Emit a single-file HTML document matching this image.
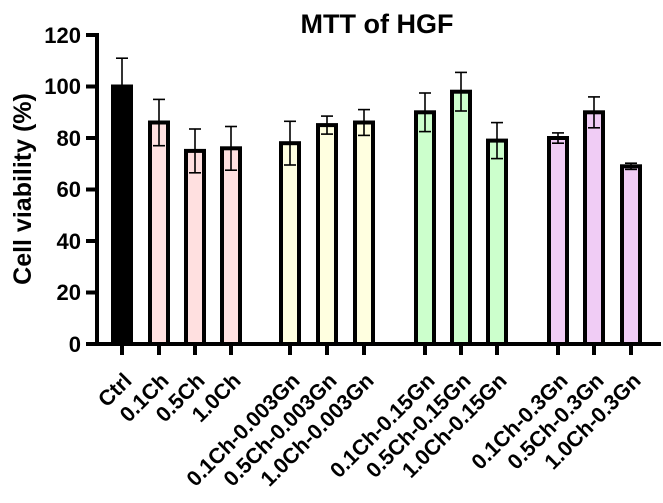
<!DOCTYPE html><html><head><style>body{margin:0;background:#fff}</style></head><body>
<svg width="663" height="498" xmlns="http://www.w3.org/2000/svg" font-family="Liberation Sans, Arial, sans-serif" font-weight="bold">
<text x="377" y="33" font-size="27" text-anchor="middle">MTT of HGF</text>
<text transform="translate(31,189) rotate(-90)" font-size="25" text-anchor="middle">Cell viability (%)</text>
<g stroke="#000">
<g stroke-width="4">
<rect x="113" y="86.5" width="18" height="257.5" fill="#000"/>
<rect x="150" y="122.5" width="18" height="221.5" fill="#ffe0e0"/>
<rect x="186" y="150.9" width="18" height="193.1" fill="#ffe0e0"/>
<rect x="222" y="148.3" width="18" height="195.7" fill="#ffe0e0"/>
<rect x="281" y="143.2" width="18" height="200.8" fill="#ffffe0"/>
<rect x="318" y="125.1" width="18" height="218.9" fill="#ffffe0"/>
<rect x="355" y="122.5" width="18" height="221.5" fill="#ffffe0"/>
<rect x="416" y="112.3" width="18" height="231.7" fill="#ccffcc"/>
<rect x="452" y="91.7" width="18" height="252.3" fill="#ccffcc"/>
<rect x="488" y="140.6" width="18" height="203.4" fill="#ccffcc"/>
<rect x="549" y="138" width="18" height="206" fill="#f0ccf5"/>
<rect x="585" y="112.3" width="18" height="231.7" fill="#f0ccf5"/>
<rect x="622" y="166.3" width="18" height="177.7" fill="#f0ccf5"/>
</g>
<g stroke-width="1.6">
<line x1="122" y1="58.2" x2="122" y2="114.8"/><line x1="116" y1="58.2" x2="128" y2="58.2"/><line x1="116" y1="114.8" x2="128" y2="114.8"/>
<line x1="159" y1="99.4" x2="159" y2="145.7"/><line x1="153" y1="99.4" x2="165" y2="99.4"/><line x1="153" y1="145.7" x2="165" y2="145.7"/>
<line x1="195" y1="129" x2="195" y2="172.8"/><line x1="189" y1="129" x2="201" y2="129"/><line x1="189" y1="172.8" x2="201" y2="172.8"/>
<line x1="231" y1="126.5" x2="231" y2="170.2"/><line x1="225" y1="126.5" x2="237" y2="126.5"/><line x1="225" y1="170.2" x2="237" y2="170.2"/>
<line x1="290" y1="121.3" x2="290" y2="165"/><line x1="284" y1="121.3" x2="296" y2="121.3"/><line x1="284" y1="165" x2="296" y2="165"/>
<line x1="327" y1="116.1" x2="327" y2="134.1"/><line x1="321" y1="116.1" x2="333" y2="116.1"/><line x1="321" y1="134.1" x2="333" y2="134.1"/>
<line x1="364" y1="109.6" x2="364" y2="135.4"/><line x1="358" y1="109.6" x2="370" y2="109.6"/><line x1="358" y1="135.4" x2="370" y2="135.4"/>
<line x1="425" y1="93" x2="425" y2="131.6"/><line x1="419" y1="93" x2="431" y2="93"/><line x1="419" y1="131.6" x2="431" y2="131.6"/>
<line x1="461" y1="72.4" x2="461" y2="111"/><line x1="455" y1="72.4" x2="467" y2="72.4"/><line x1="455" y1="111" x2="467" y2="111"/>
<line x1="497" y1="122.6" x2="497" y2="158.6"/><line x1="491" y1="122.6" x2="503" y2="122.6"/><line x1="491" y1="158.6" x2="503" y2="158.6"/>
<line x1="558" y1="132.9" x2="558" y2="143.2"/><line x1="552" y1="132.9" x2="564" y2="132.9"/><line x1="552" y1="143.2" x2="564" y2="143.2"/>
<line x1="594" y1="96.9" x2="594" y2="127.8"/><line x1="588" y1="96.9" x2="600" y2="96.9"/><line x1="588" y1="127.8" x2="600" y2="127.8"/>
<line x1="631" y1="163.2" x2="631" y2="169.4"/><line x1="625" y1="163.2" x2="637" y2="163.2"/><line x1="625" y1="169.4" x2="637" y2="169.4"/>
</g>
<g stroke-width="4">
<line x1="97" y1="33" x2="97" y2="346"/>
<line x1="95" y1="344" x2="661" y2="344"/>
<line x1="86" y1="35" x2="97" y2="35"/><line x1="86" y1="86.5" x2="97" y2="86.5"/><line x1="86" y1="138" x2="97" y2="138"/><line x1="86" y1="189.5" x2="97" y2="189.5"/><line x1="86" y1="241" x2="97" y2="241"/><line x1="86" y1="292.5" x2="97" y2="292.5"/><line x1="86" y1="344" x2="97" y2="344"/>
<line x1="122" y1="344" x2="122" y2="355"/><line x1="159" y1="344" x2="159" y2="355"/><line x1="195" y1="344" x2="195" y2="355"/><line x1="231" y1="344" x2="231" y2="355"/>
<line x1="290" y1="344" x2="290" y2="355"/><line x1="327" y1="344" x2="327" y2="355"/><line x1="364" y1="344" x2="364" y2="355"/>
<line x1="425" y1="344" x2="425" y2="355"/><line x1="461" y1="344" x2="461" y2="355"/><line x1="497" y1="344" x2="497" y2="355"/>
<line x1="558" y1="344" x2="558" y2="355"/><line x1="594" y1="344" x2="594" y2="355"/><line x1="631" y1="344" x2="631" y2="355"/>
</g>
</g>
<g font-size="22" text-anchor="end">
<text x="81" y="43">120</text><text x="81" y="94">100</text><text x="81" y="146">80</text><text x="81" y="197">60</text><text x="81" y="249">40</text><text x="81" y="300">20</text><text x="81" y="352">0</text>
</g>
<g font-size="21.5" text-anchor="end">
<text transform="translate(133,382) rotate(-45)">Ctrl</text>
<text transform="translate(170,382) rotate(-45)">0.1Ch</text>
<text transform="translate(206,382) rotate(-45)">0.5Ch</text>
<text transform="translate(242,382) rotate(-45)">1.0Ch</text>
<text transform="translate(301,382) rotate(-45)">0.1Ch-0.003Gn</text>
<text transform="translate(338,382) rotate(-45)">0.5Ch-0.003Gn</text>
<text transform="translate(375,382) rotate(-45)">1.0Ch-0.003Gn</text>
<text transform="translate(436,382) rotate(-45)">0.1Ch-0.15Gn</text>
<text transform="translate(472,382) rotate(-45)">0.5Ch-0.15Gn</text>
<text transform="translate(508,382) rotate(-45)">1.0Ch-0.15Gn</text>
<text transform="translate(569,382) rotate(-45)">0.1Ch-0.3Gn</text>
<text transform="translate(605,382) rotate(-45)">0.5Ch-0.3Gn</text>
<text transform="translate(642,382) rotate(-45)">1.0Ch-0.3Gn</text>
</g>
</svg></body></html>
